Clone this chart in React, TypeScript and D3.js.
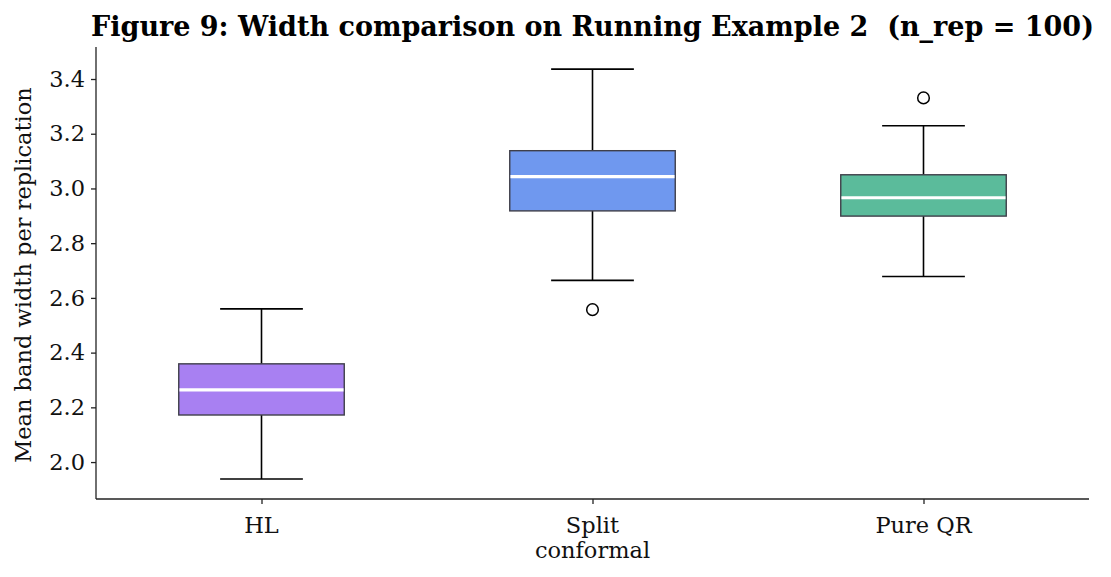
import { useEffect, useRef } from "react";
import * as d3 from "d3";

const CATEGORIES = ["HL", "Split\nconformal", "Pure QR"];
const WHISKER_LOW = [1.938, 2.664, 2.678];
const Q1 = [2.172, 2.918, 2.899];
const MEDIAN = [2.264, 3.043, 2.966];
const Q3 = [2.359, 3.138, 3.05];
const WHISKER_HIGH = [2.56, 3.436, 3.229];
const OUTLIERS: number[][] = [[], [2.557], [3.331]];
const BOX_COLORS = ["#a880f2", "#6f98ef", "#5bbb9b"];
const Y_TICKS = [2.0, 2.2, 2.4, 2.6, 2.8, 3.0, 3.2, 3.4];

const WIDTH = 1111;
const HEIGHT = 577;
const MARGIN = { top: 47, right: 22, bottom: 78, left: 96 };
const FONT = "'DejaVu Serif', serif";

export default function App() {
  const svgRef = useRef<SVGSVGElement | null>(null);

  useEffect(() => {
    const svg = svgRef.current;
    if (!svg) return;
    svg.innerHTML = "";

    const innerW = WIDTH - MARGIN.left - MARGIN.right;
    const innerH = HEIGHT - MARGIN.top - MARGIN.bottom;

    const root = d3
      .select(svg)
      .append("g")
      .attr("transform", `translate(${MARGIN.left},${MARGIN.top})`);

    // positions 1..3 with xlim 0.5..3.5, like matplotlib boxplot
    const x = d3.scaleLinear().domain([0.5, 3.5]).range([0, innerW]);
    const y = d3.scaleLinear().domain([1.865, 3.517]).range([innerH, 0]);

    const boxW = x(1.5) - x(1);
    const capW = boxW / 2;

    CATEGORIES.forEach((_, i) => {
      const cx = x(i + 1);
      const g = root.append("g");

      // whiskers
      g.append("line")
        .attr("x1", cx).attr("x2", cx)
        .attr("y1", y(Q3[i])).attr("y2", y(WHISKER_HIGH[i]))
        .attr("stroke", "#000").attr("stroke-width", 1.6);
      g.append("line")
        .attr("x1", cx).attr("x2", cx)
        .attr("y1", y(Q1[i])).attr("y2", y(WHISKER_LOW[i]))
        .attr("stroke", "#000").attr("stroke-width", 1.6);

      // caps
      [WHISKER_HIGH[i], WHISKER_LOW[i]].forEach((v) => {
        g.append("line")
          .attr("x1", cx - capW / 2).attr("x2", cx + capW / 2)
          .attr("y1", y(v)).attr("y2", y(v))
          .attr("stroke", "#000").attr("stroke-width", 1.6);
      });

      // box
      g.append("rect")
        .attr("x", cx - boxW / 2)
        .attr("y", y(Q3[i]))
        .attr("width", boxW)
        .attr("height", y(Q1[i]) - y(Q3[i]))
        .attr("fill", BOX_COLORS[i])
        .attr("stroke", "#3f3f4a")
        .attr("stroke-width", 1.4);

      // median
      g.append("line")
        .attr("x1", cx - boxW / 2 + 0.7).attr("x2", cx + boxW / 2 - 0.7)
        .attr("y1", y(MEDIAN[i])).attr("y2", y(MEDIAN[i]))
        .attr("stroke", "#fff").attr("stroke-width", 3.2);

      // fliers
      OUTLIERS[i].forEach((v) => {
        g.append("circle")
          .attr("cx", cx).attr("cy", y(v)).attr("r", 5.8)
          .attr("fill", "none")
          .attr("stroke", "#000").attr("stroke-width", 1.5);
      });
    });

    // y axis
    const yAxis = root
      .append("g")
      .call(d3.axisLeft(y).tickValues(Y_TICKS).tickFormat(d3.format(".1f")).tickSize(5).tickPadding(6));
    yAxis.select(".domain").attr("stroke", "#222").attr("stroke-width", 1.3).attr("d", `M0,${innerH}V0`);
    yAxis.selectAll(".tick line").attr("stroke", "#222").attr("stroke-width", 1.3);
    yAxis.selectAll("text")
      .attr("font-family", FONT).attr("font-size", 22.5).attr("fill", "#111");

    // x axis
    const xAxis = root
      .append("g")
      .attr("transform", `translate(0,${innerH})`)
      .call(d3.axisBottom(x).tickValues([1, 2, 3]).tickFormat(() => "").tickSize(5));
    xAxis.select(".domain").attr("stroke", "#222").attr("stroke-width", 1.3).attr("d", `M0,0H${innerW}`);
    xAxis.selectAll(".tick line").attr("stroke", "#222").attr("stroke-width", 1.3);

    CATEGORIES.forEach((c, i) => {
      const t = xAxis.append("text")
        .attr("x", x(i + 1))
        .attr("y", 34)
        .attr("text-anchor", "middle")
        .attr("font-family", FONT).attr("font-size", 22.5).attr("fill", "#111");
      c.split("\n").forEach((line, k) => {
        t.append("tspan").attr("x", x(i + 1)).attr("dy", k === 0 ? 0 : 25).text(line);
      });
    });

    // y label
    root.append("text")
      .attr("transform", "rotate(-90)")
      .attr("x", -innerH / 2 - 2)
      .attr("y", -65)
      .attr("text-anchor", "middle")
      .attr("font-family", FONT).attr("font-size", 22.5).attr("fill", "#111")
      .text("Mean band width per replication");

    // title
    root.append("text")
      .attr("x", innerW / 2)
      .attr("y", -11)
      .attr("text-anchor", "middle")
      .attr("font-family", FONT).attr("font-size", 27).attr("font-weight", "bold").attr("fill", "#000")
      .style("white-space", "pre")
      .text("Figure 9: Width comparison on Running Example 2  (n_rep = 100)");
  }, []);

  return (
    <svg
      ref={svgRef}
      width={WIDTH}
      height={HEIGHT}
      style={{ position: "absolute", left: 0, top: 0, background: "#fff" }}
    />
  );
}
